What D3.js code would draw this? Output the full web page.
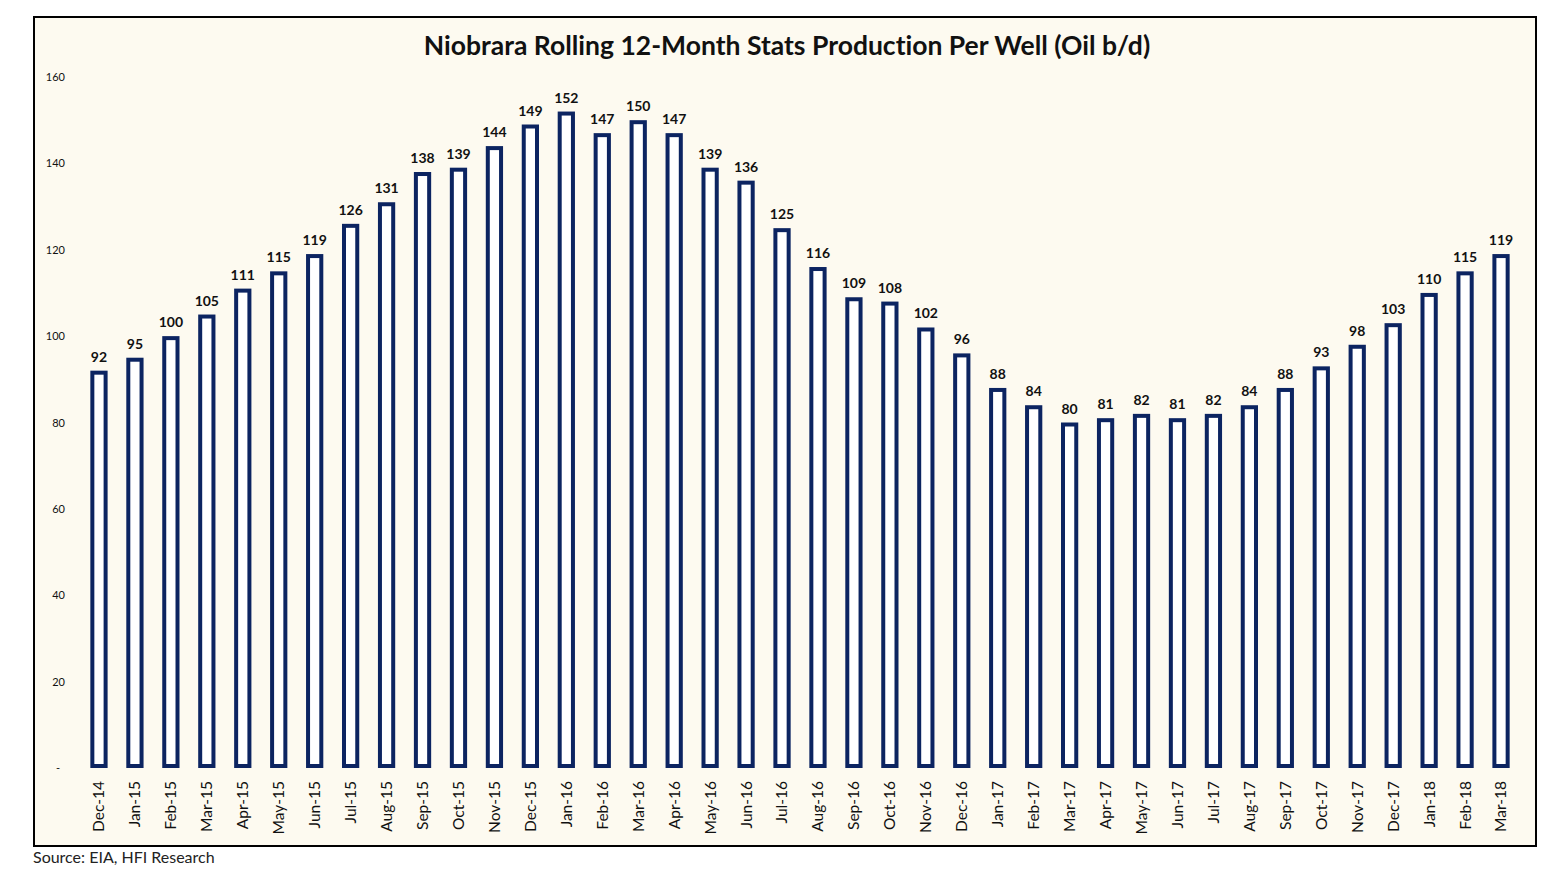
<!DOCTYPE html>
<html><head><meta charset="utf-8">
<script src="https://cdn.jsdelivr.net/npm/d3@7"></script>
<style>body{margin:0;background:#fff;} svg{display:block;} text{font-variant-ligatures:none;}</style>
</head><body>
<script>
const categories = ["Dec-14","Jan-15","Feb-15","Mar-15","Apr-15","May-15","Jun-15","Jul-15","Aug-15","Sep-15","Oct-15","Nov-15","Dec-15","Jan-16","Feb-16","Mar-16","Apr-16","May-16","Jun-16","Jul-16","Aug-16","Sep-16","Oct-16","Nov-16","Dec-16","Jan-17","Feb-17","Mar-17","Apr-17","May-17","Jun-17","Jul-17","Aug-17","Sep-17","Oct-17","Nov-17","Dec-17","Jan-18","Feb-18","Mar-18"];
const values = [92,95,100,105,111,115,119,126,131,138,139,144,149,152,147,150,147,139,136,125,116,109,108,102,96,88,84,80,81,82,81,82,84,88,93,98,103,110,115,119];
const yTicks = [0,20,40,60,80,100,120,140,160];
const title = "Niobrara Rolling 12-Month Stats Production Per Well (Oil b/d)";
const source = "Source: EIA, HFI Research";

const W = 1566, H = 884;
const font = "Lato, 'Open Sans', sans-serif";
const navy = "#0c2461";
const svg = d3.select("body").append("svg").attr("width", W).attr("height", H);

svg.append("rect").attr("x", 34).attr("y", 17).attr("width", 1502).attr("height", 829)
  .attr("fill", "#fdfaf0").attr("stroke", "#000").attr("stroke-width", 2);

const x = d3.scaleBand().domain(categories).range([81, 1519]).paddingInner(0.52).paddingOuter(0.26);
const y = d3.scaleLinear().domain([0, 160]).range([768, 77]);

svg.append("text").attr("x", 787).attr("y", 55).attr("text-anchor", "middle")
  .attr("font-family", font).attr("font-weight", "bold").attr("font-size", 26.5).attr("fill", "#111").text(title);

const yAxis = svg.append("g").attr("transform", "translate(65,0)")
  .call(d3.axisLeft(y).tickValues(yTicks).tickSize(0).tickPadding(0).tickFormat(d => d === 0 ? "-" : d));
yAxis.select(".domain").remove();
yAxis.selectAll("text").attr("font-family", font).attr("font-size", 11).attr("fill", "#111");
yAxis.selectAll(".tick").filter(d => d === 0).select("text").attr("dx", -5);

const xAxis = svg.append("g").attr("transform", "translate(0,768)")
  .call(d3.axisBottom(x).tickSize(0).tickPadding(0));
xAxis.select(".domain").remove();
xAxis.selectAll("text").attr("font-family", font).attr("font-size", 15.5).attr("fill", "#111")
  .attr("text-anchor", "end").attr("transform", "rotate(-90)").attr("x", -13).attr("y", 0).attr("dy", "0.35em");

const bw = x.bandwidth();
svg.append("g").selectAll("rect").data(values).join("rect")
  .attr("x", (d, i) => x(categories[i]) + 2)
  .attr("y", d => y(d) + 2)
  .attr("width", bw - 4)
  .attr("height", d => y(0) - y(d) - 4)
  .attr("fill", "#fff").attr("stroke", navy).attr("stroke-width", 4);

svg.append("g").selectAll("text").data(values).join("text")
  .attr("x", (d, i) => x(categories[i]) + bw / 2)
  .attr("y", d => y(d) - 9)
  .attr("text-anchor", "middle").attr("font-family", font).attr("font-weight", "bold")
  .attr("font-size", 14).attr("fill", "#111").text(d => d);

svg.append("text").attr("x", 33).attr("y", 863).attr("font-family", font).attr("font-size", 16)
  .attr("fill", "#222").text(source);
</script>
</body></html>
